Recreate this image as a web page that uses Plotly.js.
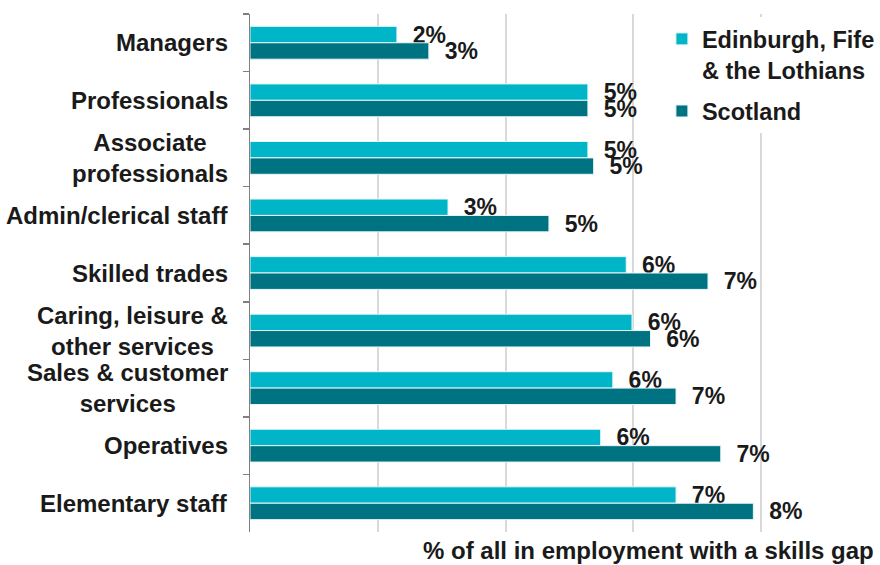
<!DOCTYPE html>
<html>
<head>
<meta charset="utf-8">
<script src="https://cdn.plot.ly/plotly-3.0.1.min.js"></script>
<style>html,body{margin:0;padding:0;background:#fff;}#chart{width:880px;height:565px;}</style>
</head>
<body>
<div id="chart"></div>
<script>
const categories = ["Managers", "Professionals", "Associate<br>professionals", "Admin/clerical staff",
  "Skilled trades", "Caring, leisure &<br>other services", "Sales & customer<br>services",
  "Operatives", "Elementary staff"];
const seriesNames = ["Edinburgh, Fife<br>& the Lothians", "Scotland"];
const edinburgh = [2.30, 5.29, 5.29, 3.10, 5.89, 5.98, 5.68, 5.49, 6.67];
const scotland  = [2.80, 5.29, 5.38, 4.68, 7.17, 6.27, 6.67, 7.37, 7.88];
const edinburghLabels = ["2%", "5%", "5%", "3%", "6%", "6%", "6%", "6%", "7%"];
const scotlandLabels  = ["3%", "5%", "5%", "5%", "7%", "6%", "7%", "7%", "8%"];
const axisTitle = "% of all in employment with a skills gap";

const FONT = "Liberation Sans, Arial, sans-serif";
const textFont = {family: FONT, size: 24, weight: "bold", color: "#1a1a1a"};
const legendFont = {family: FONT, size: 23.5, weight: "bold", color: "#1a1a1a"};
const valueFont = {family: FONT, size: 23, weight: "bold", color: "#1a1a1a"};
const pad = "\u00a0\u00a0";

function barTrace(name, values, labels, color, group) {
  return {
    type: "bar", orientation: "h", name: name, legendgroup: group,
    x: values, y: categories,
    text: labels.map(s => pad + s),
    textposition: "outside", constraintext: "none", cliponaxis: false,
    textfont: valueFont,
    marker: {color: color, line: {color: "#e8f6f8", width: 1}},
    hoverinfo: "skip"
  };
}

const data = [
  barTrace(seriesNames[0], edinburgh, edinburghLabels, "#00B5C7", "g1"),
  barTrace(seriesNames[1], scotland, scotlandLabels, "#007383", "g2")
];

const annotations = categories.map(c => ({
  xref: "paper", x: 0, xanchor: "right", xshift: -20,
  yref: "y", y: c, yanchor: "middle",
  text: c, align: "center", showarrow: false, font: textFont
}));
annotations.push({
  xref: "paper", x: 1, xanchor: "right",
  yref: "paper", y: 0, yanchor: "top", yshift: -3,
  text: axisTitle, showarrow: false, font: textFont
});

const layout = {
  width: 880, height: 565,
  margin: {l: 250, r: 4, t: 14, b: 33, autoexpand: false},
  paper_bgcolor: "#ffffff", plot_bgcolor: "#ffffff",
  barmode: "group", bargap: 0.43, bargroupgap: 0,
  showlegend: true,
  legend: {
    x: 0.658, xanchor: "left", y: 0.994, yanchor: "top",
    bgcolor: "#ffffff", font: legendFont, valign: "top",
    traceorder: "grouped", tracegroupgap: 8
  },
  xaxis: {
    range: [0, 9.8], dtick: 2, tick0: 0,
    showgrid: true, gridcolor: "#d9d9d9", gridwidth: 2,
    zeroline: false, showline: false, showticklabels: false, ticks: ""
  },
  yaxis: {
    autorange: "reversed", type: "category",
    showticklabels: false, showgrid: false, zeroline: false,
    showline: true, linecolor: "#808080", linewidth: 1.5,
    ticks: "outside", tickson: "boundaries", ticklen: 6, tickcolor: "#808080", tickwidth: 1.5
  },
  annotations: annotations,
  hovermode: false
};

Plotly.newPlot("chart", data, layout, {displayModeBar: false, staticPlot: true});
</script>
</body>
</html>
